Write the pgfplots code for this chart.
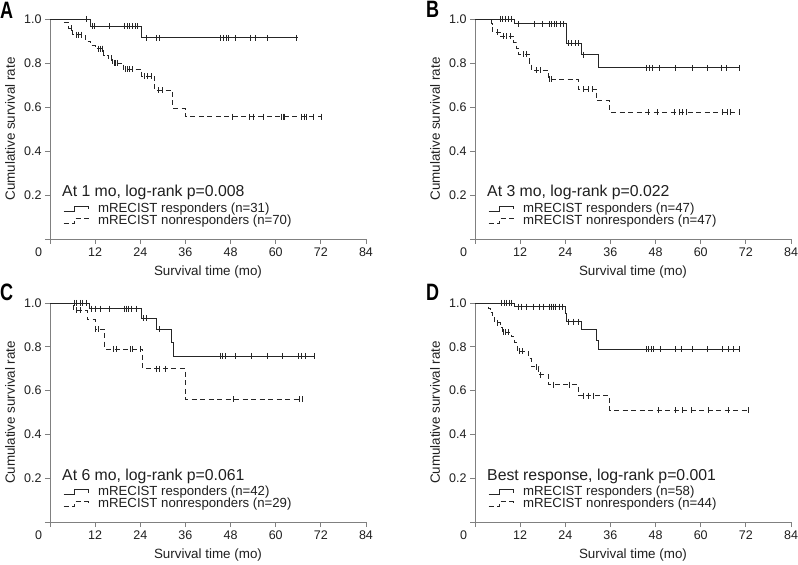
\documentclass[border=0pt]{standalone}
\usepackage{pgfplots}
\pgfplotsset{compat=1.18}
\usepackage{fontspec}
\setmainfont{Liberation Sans}
\definecolor{axgray}{HTML}{808080}
\definecolor{curve}{HTML}{262626}
\newcommand{\tickfont}{\fontsize{12.5bp}{14bp}\selectfont}
\newcommand{\labfont}{\fontsize{13.4bp}{15bp}\selectfont}
\newcommand{\legfont}{\fontsize{13.2bp}{14bp}\selectfont}
\newcommand{\titfont}{\fontsize{15.8bp}{17bp}\selectfont}
\newcommand{\letfont}{\bfseries\fontsize{23.7bp}{24bp}\selectfont}
\pgfplotsset{
  legend image code/.code={\draw[#1] (0bp,-2.5bp) -- (11bp,-2.5bp) -- (11bp,2.5bp) -- (25bp,2.5bp) -- (25bp,-0.5bp);},
  km/.style={
    scale only axis, width=316bp, height=220bp,
    xmin=0, xmax=84, ymin=0, ymax=1,
    axis x line*=bottom, axis y line*=left,
    axis line style={axgray, line width=0.9bp},
    xtick={0,12,24,36,48,60,72,84}, ytick={0,0.2,0.4,0.6,0.8,1},
    yticklabels={,0.2,0.4,0.6,0.8,1.0},
    xticklabels={\makebox[0pt][r]{0\hspace{8bp}},12,24,36,48,60,72,84},
    tick align=outside, major tick length=5bp,
    tick style={axgray, line width=0.9bp},
    ticklabel style={font=\tickfont, text=black!88},
    xlabel={Survival time (mo)}, ylabel={Cumulative survival rate},
    xlabel style={at={(axis description cs:0.5,-0.168)}, anchor=base, font=\labfont, text=black!88},
    ylabel style={at={(axis description cs:-0.1108,0.5)}, anchor=base, font=\labfont, text=black!88},
    clip=false,
    legend style={draw=none, fill=none, font=\legfont, legend cell align=left,
      at={(axis cs:3.46,0.165)}, anchor=north west, inner sep=0pt, row sep=0pt,
      /tikz/every odd column/.append style={column sep=7bp},
      nodes={inner ysep=0pt, text height=9.5bp, text depth=2.5bp, text=black!88}},
  },
  resp/.style={const plot, curve, line width=0.95bp, no marks},
  nonr/.style={const plot, curve, line width=0.95bp, no marks, dash pattern=on 5bp off 3.5bp},
  cens/.style={only marks, mark=|, mark size=3bp, mark options={curve, solid, line width=0.8bp}, forget plot},
}
\begin{document}
\begin{tikzpicture}
\path[use as bounding box] (0bp,0bp) rectangle (798bp,565bp);
\node[font=\letfont, xscale=0.76, anchor=base west, inner sep=0pt] at (0bp,546.5bp) {A};
\node[font=\letfont, xscale=0.76, anchor=base west, inner sep=0pt] at (426bp,547.5bp) {B};
\node[font=\letfont, xscale=0.76, anchor=base west, inner sep=0pt] at (0bp,264bp) {C};
\node[font=\letfont, xscale=0.76, anchor=base west, inner sep=0pt] at (426bp,264bp) {D};

% ---------------- A ----------------
\begin{axis}[km, at={(50bp,326bp)}, anchor=south west]
\addplot[resp] coordinates {(0,1)(10.8,0.968)(24.3,0.914)(65.8,0.914)};
\addlegendentry{mRECIST responders (n=31)}
\addplot[nonr] coordinates {(0,1)(3.5,0.986)(4.8,0.957)(6.0,0.929)(9.3,0.900)(10.8,0.880)(12.0,0.865)(14.3,0.836)(15.5,0.821)(16.5,0.800)(19.5,0.771)(24.4,0.740)(27.9,0.675)(32.6,0.594)(35.9,0.556)(72.2,0.556)};
\addlegendentry{mRECIST nonresponders (n=70)}
\addplot[cens] coordinates {(9.8,1)(11.3,0.968)(11.9,0.968)(15.8,0.968)(19.8,0.968)(20.5,0.968)(21.2,0.968)(21.9,0.968)(22.6,0.968)(23.3,0.968)(25.7,0.914)(28.2,0.914)(29.1,0.914)(45.3,0.914)(46.1,0.914)(46.9,0.914)(47.5,0.914)(49.2,0.914)(53.3,0.914)(54.7,0.914)(57.7,0.914)(65.5,0.914)};
\addplot[cens] coordinates {(5.6,0.957)(7.0,0.929)(7.6,0.929)(8.3,0.929)(12.8,0.865)(13.5,0.865)(13.8,0.865)(14.0,0.865)(16.4,0.821)(17.0,0.800)(17.5,0.800)(18.0,0.800)(20.0,0.771)(20.6,0.771)(21.2,0.771)(21.8,0.771)(25.1,0.740)(26.0,0.740)(27.0,0.740)(28.8,0.675)(30.0,0.675)(48.4,0.556)(53.1,0.556)(54.0,0.556)(56.7,0.556)(61.6,0.556)(62.0,0.556)(62.4,0.556)(66.9,0.556)(67.5,0.556)(68.2,0.556)(70.0,0.556)(72.2,0.556)};
\node[anchor=base west, font=\titfont, inner sep=0pt, text=black!88] at (axis cs:3.2,0.191) {At 1 mo, log-rank p=0.008};
\end{axis}

% ---------------- B ----------------
\begin{axis}[km, at={(475bp,326bp)}, anchor=south west]
\addplot[resp] coordinates {(0,1)(10.6,0.978)(24.3,0.890)(28.2,0.838)(32.8,0.778)(70.4,0.778)};
\addlegendentry{mRECIST responders (n=47)}
\addplot[nonr] coordinates {(0,1)(4.4,0.979)(4.6,0.940)(6.7,0.921)(10.2,0.895)(11.0,0.866)(11.6,0.840)(14.4,0.800)(15.0,0.767)(19.5,0.725)(27.5,0.680)(32.4,0.628)(35.8,0.576)(70.4,0.576)};
\addlegendentry{mRECIST nonresponders (n=47)}
\addplot[cens] coordinates {(6.8,1)(7.3,1)(8.2,1)(8.9,1)(9.6,1)(11.5,0.978)(15.9,0.978)(17.9,0.978)(19.9,0.978)(20.4,0.978)(21.0,0.978)(21.6,0.978)(22.6,0.978)(23.5,0.978)(24.8,0.890)(25.7,0.890)(26.6,0.890)(27.5,0.890)(28.8,0.838)(45.6,0.778)(46.3,0.778)(47.2,0.778)(49.0,0.778)(53.4,0.778)(57.8,0.778)(61.7,0.778)(65.5,0.778)(66.9,0.778)(70.4,0.778)};
\addplot[cens] coordinates {(5.9,0.940)(7.5,0.921)(8.4,0.921)(9.3,0.921)(12.8,0.840)(13.6,0.840)(16.4,0.767)(17.3,0.767)(19.9,0.725)(20.4,0.725)(28.8,0.680)(30.1,0.680)(31.3,0.680)(46.1,0.576)(48.4,0.576)(53.1,0.576)(54.3,0.576)(55.2,0.576)(56.1,0.576)(65.8,0.576)(67.1,0.576)(67.8,0.576)(70.4,0.576)};
\node[anchor=base west, font=\titfont, inner sep=0pt, text=black!88] at (axis cs:3.2,0.191) {At 3 mo, log-rank p=0.022};
\end{axis}

% ---------------- C ----------------
\begin{axis}[km, height=219bp, at={(50bp,43bp)}, anchor=south west]
\addplot[resp] coordinates {(0,1)(10.5,0.974)(24.3,0.930)(28.2,0.880)(32.3,0.820)(32.8,0.758)(70.4,0.758)};
\addlegendentry{mRECIST responders (n=42)}
\addplot[nonr] coordinates {(0,1)(6.2,0.966)(9.9,0.923)(12.0,0.880)(14.6,0.790)(24.6,0.700)(35.9,0.560)(67.3,0.560)};
\addlegendentry{mRECIST nonresponders (n=29)}
\addplot[cens] coordinates {(6.4,1)(6.9,1)(8.0,1)(8.7,1)(9.6,1)(11.1,0.974)(12.0,0.974)(13.3,0.974)(15.9,0.974)(19.9,0.974)(20.4,0.974)(20.8,0.974)(21.7,0.974)(22.9,0.974)(24.8,0.930)(25.7,0.930)(29.1,0.880)(45.4,0.758)(45.9,0.758)(46.5,0.758)(49.2,0.758)(53.6,0.758)(57.7,0.758)(61.7,0.758)(66.0,0.758)(66.9,0.758)(68.0,0.758)(70.4,0.758)};
\addplot[cens] coordinates {(7.1,0.966)(8.0,0.966)(12.2,0.880)(12.8,0.880)(16.8,0.790)(17.7,0.790)(21.3,0.790)(22.0,0.790)(23.9,0.790)(28.3,0.700)(29.2,0.700)(30.6,0.700)(48.7,0.560)(66.2,0.560)(67.1,0.560)};
\node[anchor=base west, font=\titfont, inner sep=0pt, text=black!88] at (axis cs:3.2,0.191) {At 6 mo, log-rank p=0.061};
\end{axis}

% ---------------- D ----------------
\begin{axis}[km, height=219bp, at={(475bp,43bp)}, anchor=south west]
\addplot[resp] coordinates {(0,1)(10.6,0.983)(24.1,0.950)(24.4,0.915)(28.3,0.877)(32.3,0.830)(32.8,0.789)(70.4,0.789)};
\addlegendentry{mRECIST responders (n=58)}
\addplot[nonr] coordinates {(0,1)(3.5,0.977)(4.0,0.955)(4.6,0.932)(5.3,0.909)(6.8,0.886)(7.2,0.867)(9.7,0.845)(10.5,0.818)(11.2,0.780)(14.3,0.745)(15.0,0.708)(17.0,0.672)(19.6,0.627)(27.5,0.577)(35.8,0.510)(72.6,0.510)};
\addlegendentry{mRECIST nonresponders (n=44)}
\addplot[cens] coordinates {(7.1,1)(7.7,1)(8.4,1)(9.1,1)(9.7,1)(11.5,0.983)(12.4,0.983)(13.6,0.983)(15.5,0.983)(17.1,0.983)(18.3,0.983)(19.9,0.983)(20.4,0.983)(20.8,0.983)(21.5,0.983)(22.4,0.983)(23.3,0.983)(24.8,0.915)(26.1,0.915)(27.5,0.915)(45.6,0.789)(46.1,0.789)(46.9,0.789)(47.4,0.789)(49.2,0.789)(53.4,0.789)(54.9,0.789)(57.8,0.789)(61.7,0.789)(65.8,0.789)(67.3,0.789)(68.6,0.789)(70.4,0.789)};
\addplot[cens] coordinates {(6.0,0.909)(7.5,0.867)(8.2,0.867)(8.9,0.867)(11.8,0.780)(12.6,0.780)(16.4,0.708)(17.3,0.672)(20.8,0.627)(25.1,0.627)(28.8,0.577)(30.1,0.577)(31.4,0.577)(48.7,0.510)(53.4,0.510)(55.2,0.510)(57.6,0.510)(62.0,0.510)(67.3,0.510)(72.6,0.510)};
\node[anchor=base west, font=\titfont, inner sep=0pt, text=black!88] at (axis cs:3.2,0.191) {Best response, log-rank p=0.001};
\end{axis}
\end{tikzpicture}
\end{document}
